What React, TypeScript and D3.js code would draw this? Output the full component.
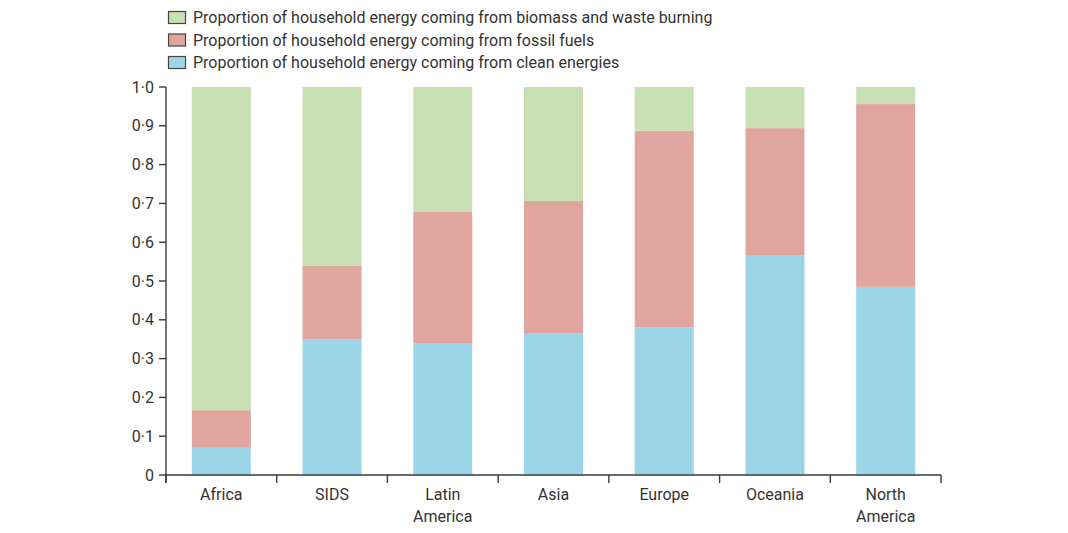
import * as d3 from "d3";

const regions = ["Africa", "SIDS", "Latin America", "Asia", "Europe", "Oceania", "North America"];
const regionLines = [["Africa"], ["SIDS"], ["Latin", "America"], ["Asia"], ["Europe"], ["Oceania"], ["North", "America"]];
const clean = [0.07, 0.35, 0.34, 0.366, 0.381, 0.567, 0.485];
const fossil = [0.097, 0.19, 0.338, 0.34, 0.506, 0.327, 0.471];
const biomass = clean.map((c, i) => 1 - c - fossil[i]);
const yTicks = [0, 0.1, 0.2, 0.3, 0.4, 0.5, 0.6, 0.7, 0.8, 0.9, 1.0];

const seriesKeys = ["clean", "fossil", "biomass"];
const seriesColors: Record<string, string> = {
  clean: "#9dd5e8",
  fossil: "#e0a59f",
  biomass: "#c8e0b4",
};
const legendItems = [
  { key: "biomass", label: "Proportion of household energy coming from biomass and waste burning" },
  { key: "fossil", label: "Proportion of household energy coming from fossil fuels" },
  { key: "clean", label: "Proportion of household energy coming from clean energies" },
];

const width = 1068;
const height = 533;
const margin = { left: 166, right: 127, top: 87, bottom: 58 };
const font = "Roboto, 'Open Sans', sans-serif";
const axisColor = "#3a3a3a";

export default function App() {
  const x = d3
    .scaleBand<string>()
    .domain(regions)
    .range([margin.left, width - margin.right])
    .paddingInner(0.467)
    .paddingOuter(0.233);
  const y = d3.scaleLinear().domain([0, 1]).range([height - margin.bottom, margin.top]);

  const table = regions.map((r, i) => ({ region: r, clean: clean[i], fossil: fossil[i], biomass: biomass[i] }));
  const stacked = d3.stack<any>().keys(seriesKeys)(table);

  const y0 = y(0);
  const step = x.step();
  const bandEdges = regions.map((r) => (x(r) as number) - (x.paddingInner() * step) / 2);
  bandEdges.push(width - margin.right);

  return (
    <svg width={width} height={height} style={{ display: "block", margin: "-8px" }}>
      <rect width={width} height={height} fill="#fff" />
      {stacked.map((s) => (
        <g key={s.key} fill={seriesColors[s.key]}>
          {s.map((d, i) => (
            <rect
              key={i}
              x={x(regions[i])}
              width={x.bandwidth()}
              y={y(d[1])}
              height={y(d[0]) - y(d[1])}
            />
          ))}
        </g>
      ))}

      {/* y axis */}
      <line x1={margin.left} x2={margin.left} y1={y(1)} y2={y0 + 8} stroke={axisColor} strokeWidth={1.4} />
      {yTicks.map((t) => (
        <g key={t}>
          <line x1={margin.left - 7} x2={margin.left} y1={y(t)} y2={y(t)} stroke={axisColor} strokeWidth={1.4} />
          <text
            x={margin.left - 12}
            y={y(t)}
            dy="0.35em"
            textAnchor="end"
            fontFamily={font}
            fontSize={16}
            fill="#333"
          >
            {t === 0 ? "0" : t.toFixed(1).replace(".", "·")}
          </text>
        </g>
      ))}

      {/* x axis */}
      <line x1={margin.left} x2={width - margin.right} y1={y0} y2={y0} stroke={axisColor} strokeWidth={1.4} />
      {bandEdges.map((e, i) => (
        <line key={i} x1={e} x2={e} y1={y0} y2={y0 + 8} stroke={axisColor} strokeWidth={1.4} />
      ))}
      {regions.map((r, i) => (
        <text
          key={r}
          x={(x(r) as number) + x.bandwidth() / 2}
          y={y0 + 25}
          textAnchor="middle"
          fontFamily={font}
          fontSize={16}
          fill="#333"
        >
          {regionLines[i].map((l, j) => (
            <tspan key={j} x={(x(r) as number) + x.bandwidth() / 2} dy={j === 0 ? 0 : 22}>
              {l}
            </tspan>
          ))}
        </text>
      ))}

      {/* legend */}
      {legendItems.map((it, i) => (
        <g key={it.key} transform={`translate(168, ${11 + i * 22.5})`}>
          <rect x={0.5} y={0.5} width={17} height={12} fill={seriesColors[it.key]} stroke="#444" strokeWidth={1.2} />
          <text x={25} y={6.5} dy="0.35em" fontFamily={font} fontSize={16} fill="#333">
            {it.label}
          </text>
        </g>
      ))}
    </svg>
  );
}
